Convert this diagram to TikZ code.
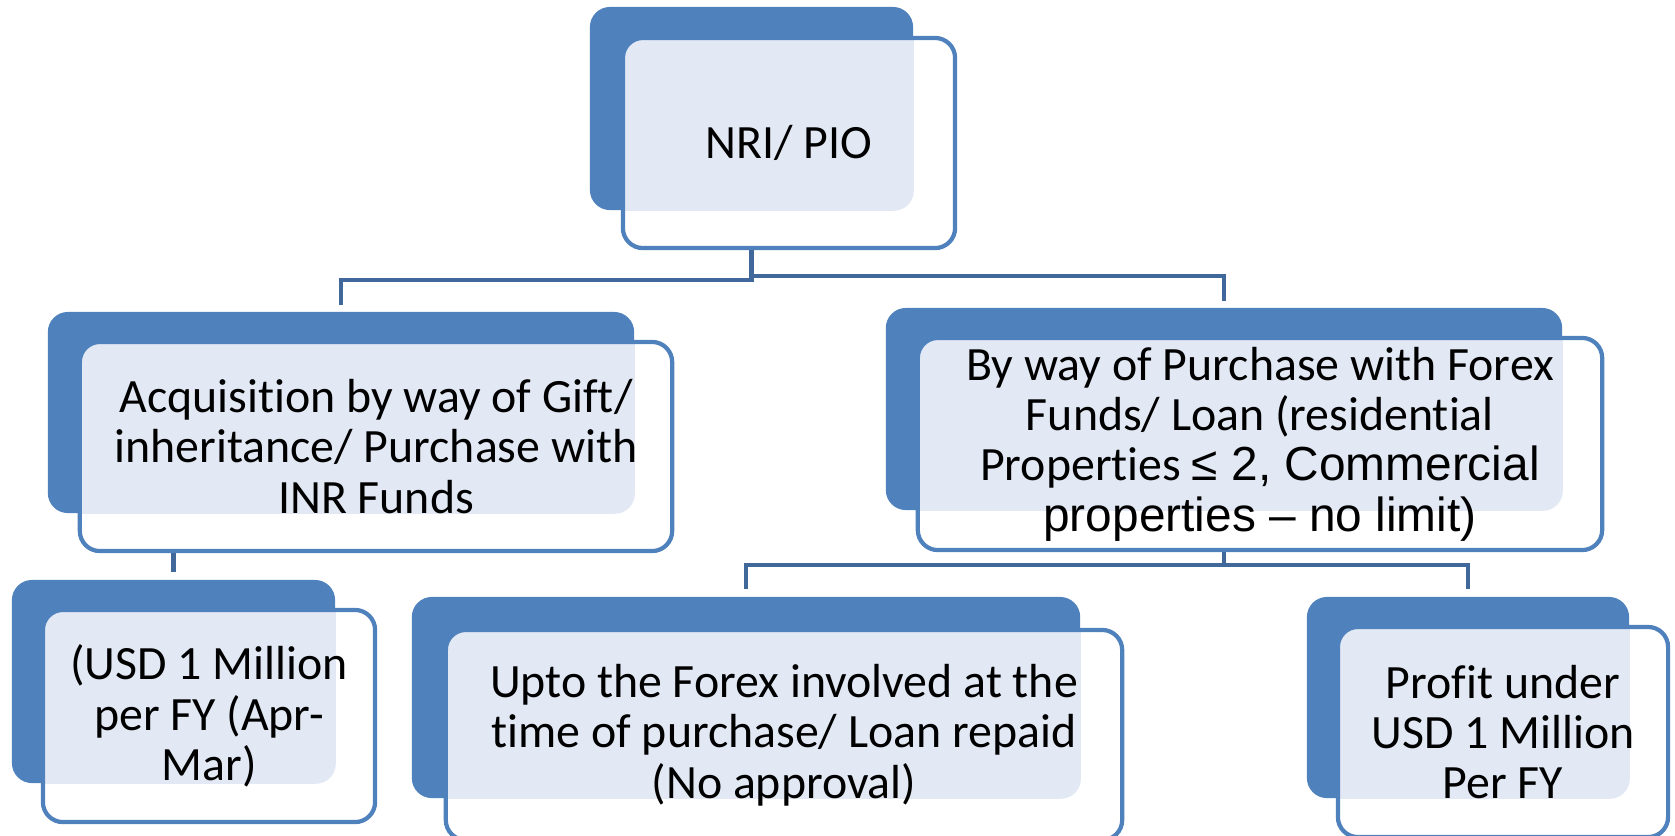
\documentclass[tikz,border=0pt]{standalone}
\usepackage{fontspec}
\setmainfont{Carlito}[Ligatures=NoCommon]
\newfontfamily\arialfont{Liberation Sans}
\definecolor{boxblue}{RGB}{79,129,189}
\definecolor{linkblue}{RGB}{64,104,154}
\definecolor{dotfill}{RGB}{226,233,244}
\begin{document}
\begin{tikzpicture}[x=0.01cm, y=-0.01cm,
    backbox/.style ={rectangle, rounded corners=0.2cm, fill=boxblue, inner sep=0pt},
    frontbox/.style ={rectangle, rounded corners=0.2cm, draw=boxblue, line width=1.2pt,
      fill=white, inner sep=0pt, align=center, font=\fontsize{13.6}{14.3}\selectfont,
      path picture={\fill[dotfill, rounded corners=0.2cm] (#1.south west) rectangle (#1.north east);}},
    link/.style ={draw=linkblue, line width=1.2pt}]
   \path[use as bounding box, clip] (0,0) rectangle (1675,835);
   \node[backbox, minimum width=3.23cm, minimum height=2.03cm] (b0) at (751.5,108.5) {};
   \node[frontbox=b0, minimum width=3.32cm, minimum height=2.10cm] (f0) at (789,143) {NRI/ PIO};
   \node[backbox, minimum width=5.86cm, minimum height=2.01cm] (b1) at (341,412.5) {};
   \node[frontbox=b1, minimum width=5.92cm, minimum height=2.09cm] (f1) at (376,446.5)
     {Acquisition by way of Gift/\\ inheritance/ Purchase with\\ INR Funds};
   \node[backbox, minimum width=6.76cm, minimum height=2.02cm] (b2) at (1224,409) {};
   \node[frontbox=b2, minimum width=6.84cm, minimum height=2.12cm] (f2) at (1260,444)
     {By way of Purchase with Forex\\ Funds/ Loan (residential\\
      Properties {\arialfont ≤ 2, Commercial}\\ {\arialfont properties – no limit)}};
   \node[backbox, minimum width=3.23cm, minimum height=2.03cm] (b3) at (173.5,681.5) {};
   \node[frontbox=b3, minimum width=3.32cm, minimum height=2.12cm] (f3) at (209,716)
     {(USD 1 Million\\ per FY (Apr-\\ Mar)};
   \node[backbox, minimum width=6.68cm, minimum height=2.01cm] (b4) at (746,697.5) {};
   \node[frontbox=b4, minimum width=6.76cm, minimum height=2.10cm] (f4) at (784,735)
     {Upto the Forex involved at the\\ time of purchase/ Loan repaid\\ (No approval)};
   \node[backbox, minimum width=3.22cm, minimum height=2.01cm] (b5) at (1468,697.5) {};
   \node[frontbox=b5, minimum width=3.30cm, minimum height=2.10cm] (f5) at (1503,732)
     {Profit under\\ USD 1 Million\\ Per FY};
   \draw[link] (b0 |- f0.south) -- ++(0,30) -| ([yshift=0.06cm]b1.north);
   \draw[link] (b0 |- f0.south) -- ++(0,26) -| ([yshift=0.06cm]b2.north);
   \draw[link] (b3 |- f1.south) -- ([yshift=0.07cm]b3.north);
   \draw[link] (b2 |- f2.south) -- ++(0,13) -| ([yshift=0.07cm]b4.north);
   \draw[link] (b2 |- f2.south) -- ++(0,13) -| ([yshift=0.07cm]b5.north);
 \end{tikzpicture}
\end{document}
